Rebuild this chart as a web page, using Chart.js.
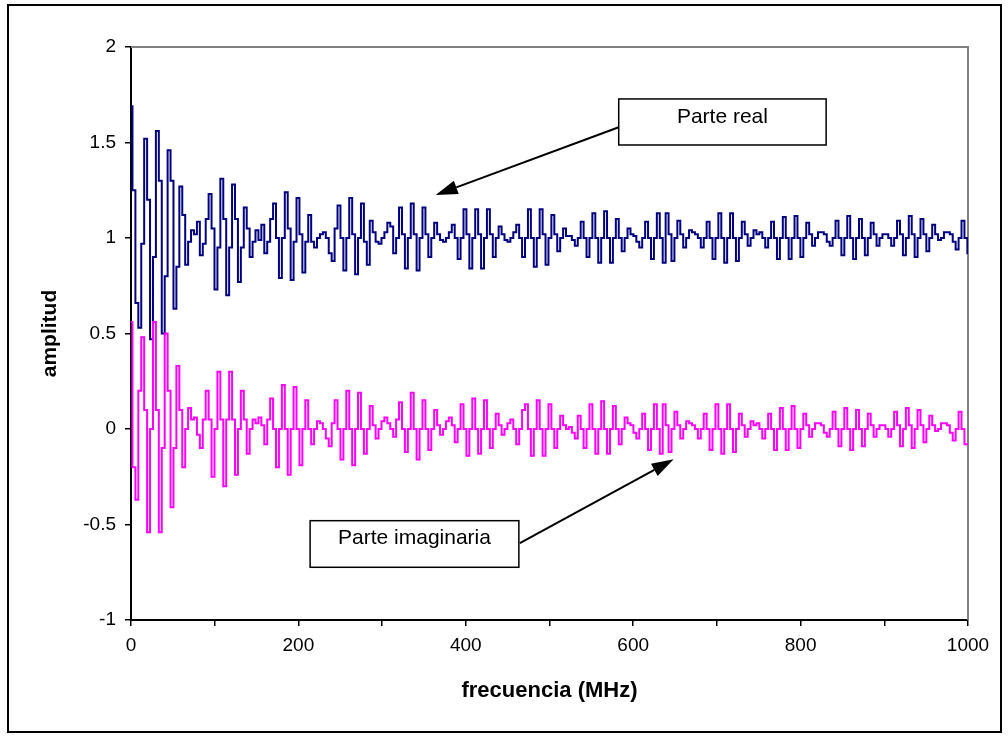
<!DOCTYPE html>
<html>
<head>
<meta charset="utf-8">
<script src="https://cdn.jsdelivr.net/npm/chart.js@4.4.0/dist/chart.umd.min.js"></script>
<style>
  html, body { margin: 0; padding: 0; background: #fff; }
  #wrap { width: 1008px; height: 736px; position: relative; }
</style>
</head>
<body>
<div id="wrap"><canvas id="chart"></canvas></div>
<script>
// --- Data (one sample every 3.5 MHz) ---
const F_STEP = 3.5;

const realPart = [
  1.69, 1.25, 0.66, 0.53, 0.97, 1.52, 1.2, 0.47, 0.9, 1.56,
  1.3, 0.5, 0.8, 1.46, 1.3, 0.63, 0.85, 1.27, 1.12, 0.86,
  0.98, 1.04, 1.02, 1.085, 0.91, 0.97, 1.1, 1.23, 1.05, 0.73,
  0.95, 1.31, 1.1, 0.7, 0.95, 1.28, 1.1, 0.77, 0.95, 1.16,
  1.05, 0.9, 0.98, 1.04, 0.99, 1.07, 0.92, 0.98, 1.1, 1.18,
  1.0, 0.79, 1.0, 1.24, 1.05, 0.78, 0.98, 1.21, 1.02, 0.82,
  0.98, 1.12, 0.98, 0.95, 1.0, 1.02, 1.03, 1.0, 0.92, 0.88,
  1.05, 1.17, 1.0, 0.83, 1.0, 1.21, 1.02, 0.81, 1.0, 1.18,
  0.98, 0.86, 1.09, 1.03, 0.98, 0.97, 1.0, 1.03, 1.08, 1.06,
  0.92, 1.0, 1.16, 1.02, 0.84, 1.0, 1.18, 1.02, 0.83, 1.0,
  1.16, 1.02, 0.9, 1.0, 1.08, 1.02, 0.99, 0.98, 1.0, 1.03,
  1.07, 1.0, 0.89, 1.0, 1.15, 1.02, 0.84, 1.0, 1.15, 1.02,
  0.84, 1.0, 1.15, 1.02, 0.9, 1.0, 1.06, 1.02, 0.99, 0.98,
  1.0, 1.03, 1.07, 1.0, 0.9, 1.0, 1.15, 1.0, 0.85, 1.0,
  1.15, 1.02, 0.86, 1.0, 1.12, 1.02, 0.93, 1.0, 1.05, 1.01,
  1.01, 0.99, 0.96, 1.0, 1.085, 1.0, 0.9, 1.0, 1.13, 1.0,
  0.87, 1.0, 1.14, 1.0, 0.87, 1.0, 1.1, 1.0, 0.93, 1.0,
  1.05, 1.02, 1.01, 0.98, 0.95, 1.0, 1.085, 1.0, 0.89, 1.0,
  1.13, 1.0, 0.87, 1.13, 1.02, 0.88, 1.0, 1.09, 1.02, 0.95,
  1.0, 1.04, 1.03, 1.02, 1.0, 0.95, 1.0, 1.085, 1.0, 0.89,
  1.0, 1.13, 1.0, 0.87, 1.0, 1.13, 1.0, 0.88, 1.0, 1.085,
  1.02, 0.96, 1.0, 1.04, 1.02, 1.03, 1.0, 0.95, 1.0, 1.085,
  1.0, 0.89, 1.0, 1.11, 1.0, 0.89, 1.0, 1.115, 1.0, 0.9,
  1.0, 1.08, 1.02, 0.96, 1.0, 1.03, 1.03, 1.02, 0.98, 0.96,
  1.0, 1.09, 1.0, 0.91, 1.0, 1.115, 1.0, 0.89, 1.0, 1.1,
  1.0, 0.91, 1.0, 1.08, 1.02, 0.96, 1.0, 1.02, 1.02, 1.0,
  0.96, 1.0, 1.09, 1.02, 0.91, 1.0, 1.115, 1.02, 0.9, 1.0,
  1.1, 1.02, 0.93, 1.0, 1.07, 1.02, 0.99, 1.0, 1.03, 1.03,
  1.02, 0.98, 0.94, 1.0, 1.09, 1.0, 0.92
];

const imagPart = [
  0.56, -0.2, -0.37, 0.2, 0.48, 0.1, -0.54, 0.0, 0.56, 0.1,
  -0.54, -0.1, 0.5, 0.2, -0.41, -0.1, 0.33, 0.1, -0.2, 0.0,
  0.11, 0.05, 0.06, -0.03, -0.1, 0.05, 0.2, 0.05, -0.25, 0.0,
  0.3, 0.05, -0.3, 0.05, 0.3, 0.05, -0.24, 0.0, 0.2, 0.05,
  -0.13, 0.0, 0.05, 0.03, 0.06, 0.02, -0.08, 0.05, 0.16, 0.0,
  -0.2, 0.0, 0.23, 0.0, -0.24, 0.0, 0.22, 0.0, -0.19, 0.0,
  0.15, 0.0, -0.08, 0.0, 0.04, 0.03, 0.0, -0.05, -0.09, 0.03,
  0.15, 0.0, -0.16, 0.0, 0.2, 0.0, -0.19, 0.0, 0.19, 0.0,
  -0.13, 0.0, 0.12, 0.02, -0.05, 0.0, 0.04, 0.06, 0.03, 0.0,
  -0.04, 0.05, 0.14, 0.0, -0.12, 0.0, 0.19, 0.0, -0.16, 0.0,
  0.15, 0.0, -0.11, 0.0, 0.1, 0.02, -0.03, 0.0, 0.04, 0.06,
  0.02, -0.07, 0.0, 0.13, 0.0, -0.14, 0.0, 0.16, 0.0, -0.13,
  0.0, 0.15, 0.0, -0.1, 0.0, 0.08, 0.02, -0.03, 0.0, 0.03,
  0.05, 0.0, -0.08, 0.0, 0.1, 0.13, 0.0, -0.14, 0.0, 0.15,
  0.0, -0.14, 0.0, 0.13, 0.0, -0.1, 0.0, 0.07, 0.02, 0.0,
  0.01, -0.02, -0.05, 0.07, 0.0, -0.1, 0.0, 0.13, 0.0, -0.13,
  0.0, 0.145, 0.0, -0.13, 0.0, 0.12, 0.0, -0.08, 0.0, 0.06,
  0.03, 0.02, -0.02, -0.05, 0.0, 0.08, 0.0, -0.11, 0.0, 0.13,
  0.0, -0.13, 0.13, 0.02, -0.12, 0.0, 0.09, 0.02, -0.05, 0.0,
  0.04, 0.03, 0.02, 0.0, -0.05, 0.0, 0.08, 0.0, -0.11, 0.0,
  0.13, 0.0, -0.13, 0.0, 0.13, 0.0, -0.12, 0.0, 0.08, 0.02,
  -0.04, 0.0, 0.04, 0.02, 0.03, 0.0, -0.05, 0.0, 0.08, 0.0,
  -0.11, 0.0, 0.11, 0.0, -0.11, 0.0, 0.12, 0.0, -0.1, 0.0,
  0.08, 0.02, -0.04, 0.0, 0.03, 0.03, 0.02, -0.02, -0.04, 0.0,
  0.09, 0.0, -0.09, 0.0, 0.11, 0.0, -0.11, 0.0, 0.1, 0.0,
  -0.09, 0.0, 0.08, 0.02, -0.04, 0.0, 0.02, 0.02, 0.0, -0.04,
  0.0, 0.09, 0.02, -0.09, 0.0, 0.11, 0.02, -0.1, 0.0, 0.1,
  0.02, -0.07, 0.0, 0.07, 0.02, -0.01, 0.0, 0.03, 0.03, 0.02,
  -0.02, -0.06, 0.0, 0.09, 0.0, -0.08, -0.08
];

// Text boxes with arrows, in data units (MHz, amplitud)
const noteLabels = ['Parte real', 'Parte imaginaria'];
const noteBoxes = [[582.7, 830.5, 1.728, 1.487], [214, 463.4, -0.48, -0.724]];
const noteArrows = [[582.7, 1.58, 364, 1.225], [464.6, -0.598, 648.3, -0.159]];

const FONT = '"Liberation Sans", Arial, sans-serif';

if (realPart.length !== imagPart.length) console.error('series length mismatch');

const toPoints = (vals) => vals.map((v, i) => ({ x: i * F_STEP, y: v }));

// --- Frame, plot border and notes ---
const decorations = {
  id: 'decorations',
  beforeDraw(chart) {
    const { ctx, width, height } = chart;
    ctx.save();
    ctx.fillStyle = '#fff';
    ctx.fillRect(0, 0, width, height);
    ctx.restore();
  },
  beforeDatasetsDraw(chart) {
    const { ctx, chartArea: a } = chart;
    ctx.save();
    ctx.strokeStyle = '#808080';
    ctx.lineWidth = 2;
    ctx.beginPath();
    ctx.moveTo(a.left, a.top);
    ctx.lineTo(a.right, a.top);
    ctx.lineTo(a.right, a.bottom);
    ctx.stroke();
    ctx.restore();
  },
  afterDraw(chart) {
    const { ctx, scales: { x, y } } = chart;
    ctx.save();

    // outer frame
    ctx.strokeStyle = '#000';
    ctx.lineWidth = 2;
    ctx.strokeRect(8, 5, 993, 727);

    noteLabels.forEach((label, k) => {
      const [a0, a1, b0, b1] = noteArrows[k];
      const sx = x.getPixelForValue(a0), sy = y.getPixelForValue(a1);
      const tx = x.getPixelForValue(b0), ty = y.getPixelForValue(b1);
      const ang = Math.atan2(ty - sy, tx - sx);
      const headLen = 22, headW = 7;
      const bx = tx - headLen * Math.cos(ang), by = ty - headLen * Math.sin(ang);

      ctx.strokeStyle = '#000';
      ctx.lineWidth = 2;
      ctx.beginPath();
      ctx.moveTo(sx, sy);
      ctx.lineTo(bx, by);
      ctx.stroke();

      ctx.fillStyle = '#000';
      ctx.beginPath();
      ctx.moveTo(tx, ty);
      ctx.lineTo(bx + headW * Math.sin(ang), by - headW * Math.cos(ang));
      ctx.lineTo(bx - headW * Math.sin(ang), by + headW * Math.cos(ang));
      ctx.closePath();
      ctx.fill();

      const [l, r, t, b] = noteBoxes[k];
      const left = x.getPixelForValue(l), right = x.getPixelForValue(r);
      const top = y.getPixelForValue(t), bottom = y.getPixelForValue(b);
      ctx.fillStyle = '#fff';
      ctx.fillRect(left, top, right - left, bottom - top);
      ctx.lineWidth = 1.5;
      ctx.strokeRect(left, top, right - left, bottom - top);

      ctx.fillStyle = '#000';
      ctx.font = '21px ' + FONT;
      ctx.textAlign = 'center';
      ctx.textBaseline = 'middle';
      ctx.fillText(label, (left + right) / 2, top + 18);
    });

    ctx.restore();
  }
};

new Chart(document.getElementById('chart'), {
  type: 'line',
  data: {
    datasets: [
      {
        label: 'Parte imaginaria',
        data: toPoints(imagPart),
        borderColor: '#ff00ff',
        borderWidth: 2,
        pointRadius: 0,
        stepped: 'middle',
        fill: false
      },
      {
        label: 'Parte real',
        data: toPoints(realPart),
        borderColor: '#000080',
        borderWidth: 2,
        pointRadius: 0,
        stepped: 'middle',
        fill: false
      }
    ]
  },
  options: {
    responsive: true,
    maintainAspectRatio: false,
    devicePixelRatio: 1,
    animation: false,
    layout: { padding: { left: 0, right: 40, top: 47, bottom: 0 } },
    plugins: {
      legend: { display: false },
      tooltip: { enabled: false }
    },
    scales: {
      x: {
        type: 'linear',
        min: 0,
        max: 1000,
        ticks: {
          stepSize: 100,
          autoSkip: false,
          maxRotation: 0,
          padding: 8,
          color: '#000',
          font: { family: FONT, size: 19 },
          callback: (v) => (v % 200 === 0 ? String(v) : '')
        },
        grid: { drawOnChartArea: false, drawTicks: true, tickLength: 6, color: '#000', lineWidth: 1.5 },
        border: { display: true, color: '#000', width: 2 },
        title: {
          display: true,
          text: 'frecuencia (MHz)',
          color: '#000',
          font: { family: FONT, size: 22, weight: 'bold' },
          padding: { top: 0, bottom: 32 }
        },
        afterFit(scale) { scale.height = 116; }
      },
      y: {
        min: -1,
        max: 2,
        ticks: {
          stepSize: 0.5,
          padding: 9,
          color: '#000',
          font: { family: FONT, size: 19 },
          callback: (v) => String(v)
        },
        grid: { drawOnChartArea: false, drawTicks: true, tickLength: 6, color: '#000', lineWidth: 1.5 },
        border: { display: true, color: '#000', width: 2 },
        title: {
          display: true,
          text: 'amplitud',
          color: '#000',
          font: { family: FONT, size: 21, weight: 'bold' },
          padding: { top: 38, bottom: 0 }
        },
        afterFit(scale) { scale.width = 131; }
      }
    }
  },
  plugins: [decorations]
});
</script>
</body>
</html>
